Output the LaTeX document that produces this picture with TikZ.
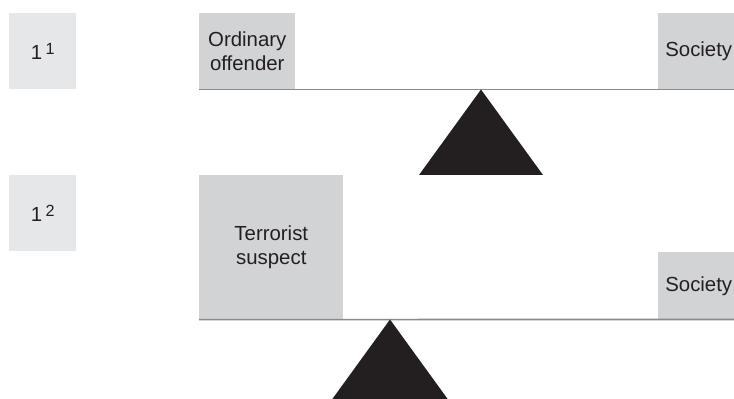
\documentclass[tikz,border=0pt]{standalone}
\usepackage{fontspec}
\setmainfont{Liberation Sans}
\usepackage{tikz}
\usetikzlibrary{positioning}

\definecolor{labelgray}{HTML}{E6E7E8}
\definecolor{boxgray}{HTML}{D1D3D4}
\definecolor{beamgray}{HTML}{8A8A8A}
\definecolor{ink}{HTML}{231F20}

\newcommand{\tagexp}[1]{\hspace{2.5pt}\raisebox{3.6pt}{\fontsize{11.5}{12}\selectfont #1}}

\begin{document}
\begin{tikzpicture}[x=0.025cm, y=-0.025cm,
    every node/.style={font=\fontsize{14.5}{16.5}\selectfont, text=ink, align=center, inner sep=0pt, anchor=north west},
    tag/.style={fill=labelgray, minimum width=1.675cm, minimum height=1.9cm},
    weight/.style={fill=boxgray},
    rim/.style={weight, minimum width=1.9cm, text width=1.9cm, align=left},
    beam/.style={beamgray, line width=1.2pt}]
    \clip (0,0) rectangle (734,399);

    % first balance
    \node [tag] (1) at (9,13) {1\tagexp{1}};
    \node [weight, minimum width=2.4cm, minimum height=1.9cm] (2) at (199,13) {Ordinary\\offender};
    \node [rim, minimum height=1.9cm] (3) at (658,13) {\hspace*{5pt}Society};
    \draw [beam] (2.south west) -- (3.south east);
    \coordinate (p1) at (481,89.5);
    \fill [ink] (p1) -- ++(62,85.5) -- ++(-124,0) -- cycle;

    % second balance
    \node [tag] (4) at (9,175) {1\tagexp{2}};
    \node [weight, minimum width=3.6cm, minimum height=3.6cm] (5) at (199,175) {Terrorist\\suspect};
    \node [rim, minimum height=1.675cm] (6) at (658,252) {\hspace*{5pt}Society};
    \draw [beam] (5.south west) -- (6.south east);
    \coordinate (p2) at (390,319.5);
    \fill [ink] (p2) -- ++(62,85.5) -- ++(-124,0) -- cycle;
\end{tikzpicture}
\end{document}
